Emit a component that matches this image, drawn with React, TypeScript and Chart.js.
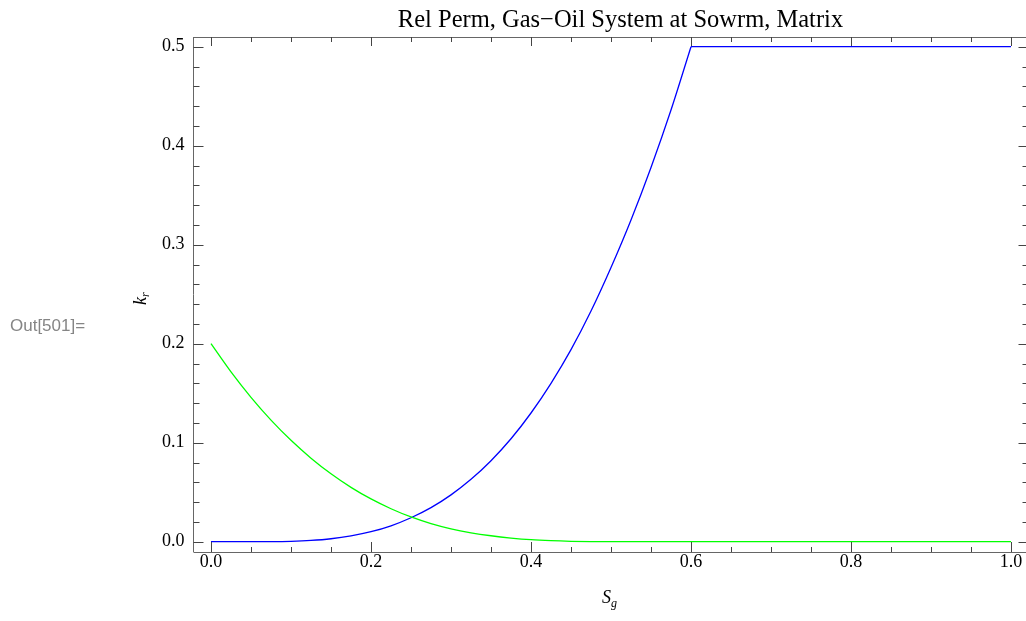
import React, { useEffect, useRef } from "react";
import { Chart, registerables } from "chart.js";
Chart.register(...registerables);

// Gas relative permeability (blue), rising part
const sgGas = [0, 0.025, 0.05, 0.075, 0.1, 0.125, 0.15, 0.175, 0.2, 0.225, 0.25, 0.275, 0.3, 0.325, 0.35, 0.375, 0.4, 0.425, 0.45, 0.475, 0.5, 0.525, 0.55, 0.575, 0.6];
const krg = [0, 0, 0, 0.00005, 0.0004, 0.0013, 0.003, 0.0059, 0.0101, 0.0161, 0.0242, 0.0344, 0.0473, 0.063, 0.0818, 0.104, 0.13, 0.16, 0.194, 0.233, 0.277, 0.325, 0.378, 0.436, 0.5];
// Gas relative permeability, flat part
const sgGasFlat = [0.6, 1.0];
const krgFlat = [0.5, 0.5];
// Oil relative permeability (green)
const sgOil = [0, 0.025, 0.05, 0.075, 0.1, 0.125, 0.15, 0.175, 0.2, 0.225, 0.25, 0.275, 0.3, 0.325, 0.35, 0.375, 0.4, 0.425, 0.45, 0.475, 0.5, 1.0];
const kro = [0.2, 0.1715, 0.1458, 0.1228, 0.1024, 0.0844, 0.0686, 0.0549, 0.0432, 0.0333, 0.025, 0.0183, 0.013, 0.009, 0.006, 0.0037, 0.002, 0.001, 0.0004, 0.0001, 0, 0];

const xTicks = [0, 0.2, 0.4, 0.6, 0.8, 1.0];
const yTicks = [0, 0.1, 0.2, 0.3, 0.4, 0.5];
const xMinorStep = 0.05;
const yMinorStep = 0.02;

const title = "Rel Perm, Gas\u2212Oil System at Sowrm, Matrix";
const outLabel = "Out[501]=";

const W = 1040;
const H = 621;

const framePlugin = {
  id: "mmaFrame",
  afterDraw(chart: any) {
    const ctx = chart.ctx;
    const { left, right, top, bottom } = chart.chartArea;
    const xs = chart.scales.x;
    const ys = chart.scales.y;
    ctx.save();
    // frame
    ctx.strokeStyle = "#666";
    ctx.lineWidth = 1;
    ctx.beginPath();
    ctx.moveTo(left, top + 0.5);
    ctx.lineTo(right, top + 0.5);
    ctx.moveTo(left, bottom + 0.5);
    ctx.lineTo(right, bottom + 0.5);
    ctx.moveTo(left, top);
    ctx.lineTo(left, bottom);
    ctx.moveTo(right, top);
    ctx.lineTo(right, bottom);
    ctx.stroke();
    // ticks
    ctx.strokeStyle = "#444";
    ctx.beginPath();
    const xmin = xs.min, xmax = xs.max;
    for (let i = Math.ceil(xmin / xMinorStep - 1e-9); i * xMinorStep <= xmax + 1e-9; i++) {
      const v = i * xMinorStep;
      const isMajor = xTicks.some((t) => Math.abs(t - v) < 1e-6);
      const len = isMajor ? 10 : 5;
      const px = Math.round(xs.getPixelForValue(v)) + 0.5;
      ctx.moveTo(px, bottom);
      ctx.lineTo(px, bottom - len);
      ctx.moveTo(px, top);
      ctx.lineTo(px, top + (isMajor ? 9 : 5));
    }
    const ymin = ys.min, ymax = ys.max;
    for (let i = Math.ceil(ymin / yMinorStep - 1e-9); i * yMinorStep <= ymax + 1e-9; i++) {
      const v = i * yMinorStep;
      const isMajor = yTicks.some((t) => Math.abs(t - v) < 1e-6);
      const len = isMajor ? 10 : 6;
      const py = Math.round(ys.getPixelForValue(v)) + 0.5;
      ctx.moveTo(left, py);
      ctx.lineTo(left + len, py);
      ctx.moveTo(right, py);
      ctx.lineTo(right - len, py);
    }
    ctx.stroke();

    // title
    ctx.fillStyle = "#000";
    ctx.font = "24.5px 'Liberation Serif', 'Times New Roman', serif";
    ctx.textAlign = "center";
    ctx.textBaseline = "alphabetic";
    ctx.fillText(title, 620.5, 27);

    // x axis title S_g
    ctx.textAlign = "left";
    ctx.font = "italic 18px 'Liberation Serif', serif";
    ctx.fillText("S", 602, 603);
    const wS = ctx.measureText("S").width;
    ctx.font = "italic 12px 'Liberation Serif', serif";
    ctx.fillText("g", 602 + wS, 607);

    // y axis title k_r (rotated)
    ctx.save();
    ctx.translate(146, 305);
    ctx.rotate(-Math.PI / 2);
    ctx.font = "italic 18px 'Liberation Serif', serif";
    ctx.fillText("k", 0, 0);
    const wk = ctx.measureText("k").width;
    ctx.font = "italic 12px 'Liberation Serif', serif";
    ctx.fillText("r", wk, 3);
    ctx.restore();

    // Out label
    ctx.fillStyle = "#858585";
    ctx.font = "17px 'Liberation Sans', Arial, sans-serif";
    ctx.fillText(outLabel, 10, 330.5);
    ctx.restore();
  },
};

export default function App() {
  const ref = useRef<HTMLCanvasElement | null>(null);
  useEffect(() => {
    if (!ref.current) return;
    const tickFont = { family: "'Liberation Serif', 'Times New Roman', serif", size: 18 };
    const chart = new Chart(ref.current, {
      type: "scatter",
      data: {
        datasets: [
          {
            data: sgOil.map((x, i) => ({ x, y: kro[i] })),
            showLine: true,
            borderColor: "#00ff00",
            borderWidth: 1.3,
            pointRadius: 0,
            cubicInterpolationMode: "monotone",
          },
          {
            data: sgGas.map((x, i) => ({ x, y: krg[i] })),
            showLine: true,
            borderColor: "#0000ff",
            borderWidth: 1.3,
            pointRadius: 0,
            cubicInterpolationMode: "monotone",
          },
          {
            data: sgGasFlat.map((x, i) => ({ x, y: krgFlat[i] })),
            showLine: true,
            borderColor: "#0000ff",
            borderWidth: 1.3,
            pointRadius: 0,
          },
        ],
      },
      options: {
        responsive: false,
        animation: false,
        devicePixelRatio: 1,
        layout: { padding: { top: 37, right: 11.5, left: 0, bottom: 0 } },
        plugins: { legend: { display: false }, tooltip: { enabled: false }, title: { display: false } },
        scales: {
          x: {
            type: "linear",
            min: -0.021875,
            max: 1.021875,
            grid: { display: false },
            border: { display: false },
            afterFit: (s: any) => { s.height = 69; },
            afterBuildTicks: (s: any) => { s.ticks = xTicks.map((v) => ({ value: v })); },
            ticks: {
              font: tickFont,
              color: "#000",
              padding: -9,
              maxRotation: 0,
              autoSkip: false,
              callback: (v: any) => Number(v).toFixed(1),
            },
          },
          y: {
            type: "linear",
            min: -0.0104,
            max: 0.5098,
            grid: { display: false },
            border: { display: false },
            afterFit: (s: any) => { s.width = 193.5; },
            afterBuildTicks: (s: any) => { s.ticks = yTicks.map((v) => ({ value: v })); },
            ticks: {
              font: tickFont,
              color: "#000",
              padding: 1,
              autoSkip: false,
              callback: (v: any) => Number(v).toFixed(1),
            },
          },
        },
      },
      plugins: [framePlugin],
    } as any);
    return () => chart.destroy();
  }, []);
  return (
    <div style={{ position: "fixed", left: 0, top: 0, width: 1026, height: H, overflow: "hidden", background: "#fff" }}>
      <canvas ref={ref} width={W} height={H} style={{ width: W, height: H, display: "block" }} />
    </div>
  );
}
